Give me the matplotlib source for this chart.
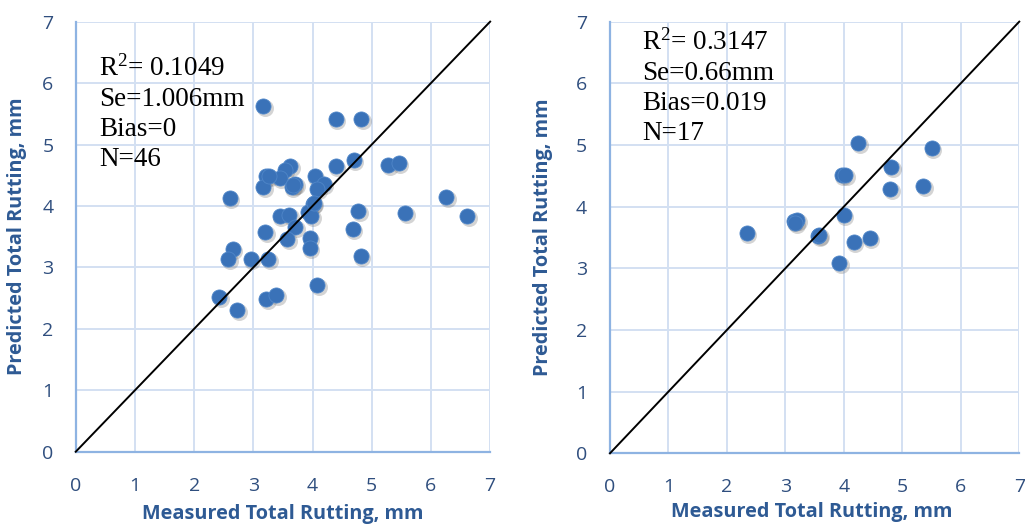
import matplotlib
matplotlib.use("Agg")
import matplotlib.pyplot as plt
import matplotlib.transforms as mtransforms

# Left panel: measured vs predicted total rutting (mm)
left_measured = [3.17, 4.39, 4.82, 4.70, 4.39, 5.28, 5.46, 3.62, 3.53, 3.22,
                 3.45, 3.71, 3.65, 3.17, 4.04, 4.19, 4.08, 2.60, 6.26, 4.00,
                 3.93, 3.98, 4.77, 5.57, 6.61, 3.45, 3.61, 3.71, 4.68, 3.20,
                 3.57, 3.95, 3.95, 2.65, 2.58, 2.96, 3.25, 4.81, 4.08, 2.42,
                 3.22, 3.39, 2.73, 4.02, 3.27, 3.67]
left_predicted = [5.62, 5.42, 5.42, 4.74, 4.65, 4.67, 4.70, 4.65, 4.59, 4.48,
                  4.46, 4.36, 4.31, 4.31, 4.48, 4.36, 4.28, 4.13, 4.15, 4.04,
                  3.90, 3.83, 3.91, 3.89, 3.83, 3.83, 3.85, 3.66, 3.63, 3.58,
                  3.46, 3.48, 3.32, 3.30, 3.13, 3.13, 3.13, 3.19, 2.71, 2.51,
                  2.48, 2.55, 2.31, 4.05, 4.48, 4.34]
left_stats = "R$^2$= 0.1049\nSe=1.006mm\nBias=0\nN=46"

# Right panel
right_measured = [4.25, 5.50, 4.81, 3.96, 4.02, 4.79, 5.36, 4.00, 3.14, 3.20,
                  2.34, 3.56, 4.44, 4.17, 3.92, 3.17, 3.58]
right_predicted = [5.03, 4.95, 4.65, 4.51, 4.51, 4.29, 4.34, 3.86, 3.77, 3.78,
                   3.57, 3.52, 3.49, 3.42, 3.08, 3.74, 3.54]
right_stats = "R$^2$= 0.3147\nSe=0.66mm\nBias=0.019\nN=17"

ticks = [0, 1, 2, 3, 4, 5, 6, 7]

tick_color = "#2F4E7E"
label_color = "#2E5A94"
grid_color = "#D3E0F2"
spine_color = "#8EB3E2"
dot_color = "#3A72B8"

# superscript 2 drawn in the serif font, like the equation box
plt.rcParams["mathtext.fontset"] = "custom"
plt.rcParams["mathtext.rm"] = "Liberation Serif"
plt.rcParams["mathtext.it"] = "Liberation Serif:italic"

fig = plt.figure(figsize=(10.25, 5.28), dpi=100)
ax_left = fig.add_axes([0.0739, 0.1445, 0.4043, 0.8145])
ax_right = fig.add_axes([0.5951, 0.1415, 0.3993, 0.8175])


def draw_panel(ax, measured, predicted, stats, text_x, text_y, ytick_pad):
    ax.set_xlim(0, 7)
    ax.set_ylim(0, 7)
    ax.set_xticks(ticks)
    ax.set_yticks(ticks)
    ax.grid(True, color=grid_color, linewidth=1.4, zorder=0)
    ax.set_axisbelow(True)
    for side in ["top", "right"]:
        ax.spines[side].set_visible(False)
    for side in ["left", "bottom"]:
        ax.spines[side].set_color(spine_color)
        ax.spines[side].set_linewidth(1.6)
    ax.tick_params(length=0, labelsize=14, labelcolor=tick_color)
    ax.tick_params(axis="x", pad=18)
    ax.tick_params(axis="y", pad=ytick_pad)
    for lab in ax.get_xticklabels() + ax.get_yticklabels():
        lab.set_family("Open Sans")

    # soft shadow under the dots
    shadow = mtransforms.offset_copy(ax.transData, fig=fig, x=1.5, y=-2.0, units="dots")
    ax.scatter(measured, predicted, s=150, color="#555555", alpha=0.25,
               linewidths=0, transform=shadow, zorder=2)
    ax.scatter(measured, predicted, s=118, color=dot_color, edgecolors="#4F86C8",
               linewidths=0.6, zorder=3)
    ax.plot([0, 7], [0, 7], color="black", linewidth=1.4, zorder=4, clip_on=False)

    ax.text(text_x, text_y, stats, transform=ax.transAxes, family="Liberation Serif",
            fontsize=19.5, va="top", ha="left", linespacing=1.27, color="black")
    ax.set_xlabel("Measured Total Rutting, mm", family="Open Sans", fontsize=14.3,
                  fontweight="bold", color=label_color)
    ax.set_ylabel("Predicted Total Rutting, mm", family="Open Sans", fontsize=14.3,
                  fontweight="bold", color=label_color)


draw_panel(ax_left, left_measured, left_predicted, left_stats, 0.056, 0.922, 16)
draw_panel(ax_right, right_measured, right_predicted, right_stats, 0.078, 0.982, 16.5)

ax_left.yaxis.set_label_coords(-0.118, 0.5)
ax_right.yaxis.set_label_coords(-0.139, 0.5)
ax_left.xaxis.set_label_coords(0.5, -0.122)
ax_right.xaxis.set_label_coords(0.492, -0.112)

fig.savefig("out.png", dpi=100)
